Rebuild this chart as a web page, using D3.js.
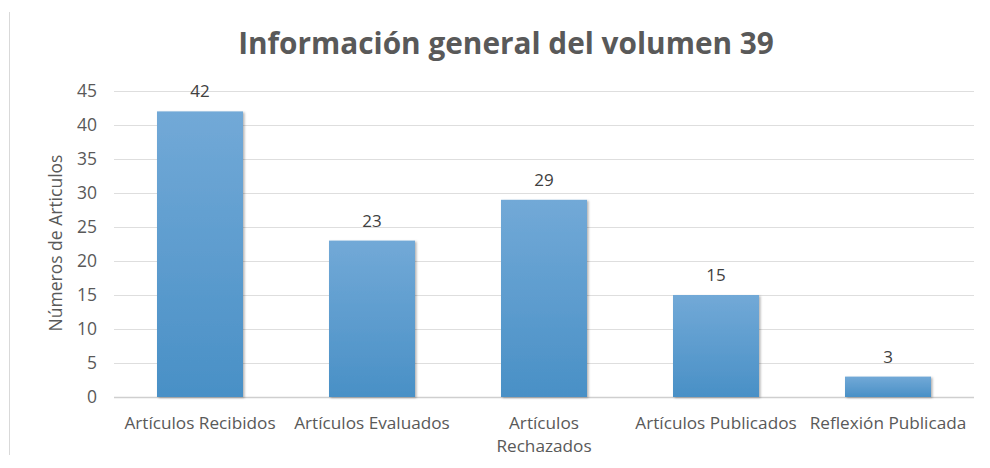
<!DOCTYPE html>
<html><head><meta charset="utf-8">
<script src="https://cdn.jsdelivr.net/npm/d3@7"></script>
<style>
html,body{margin:0;padding:0;background:#fff;}
svg{display:block;font-family:"Open Sans","Noto Sans",sans-serif;}
</style></head>
<body><svg id="c" width="990" height="468"></svg>
<script>
const categories = ["Artículos Recibidos","Artículos Evaluados","Artículos Rechazados","Artículos Publicados","Reflexión Publicada"];
const categoryLines = [["Artículos Recibidos"],["Artículos Evaluados"],["Artículos","Rechazados"],["Artículos Publicados"],["Reflexión Publicada"]];
const values = [42,23,29,15,3];
const yTicks = [0,5,10,15,20,25,30,35,40,45];
const title = "Información general del volumen 39";
const yTitle = "Números de Articulos";

const svg = d3.select("#c");
const m = {left:114, right:16, top:91, bottom:71};
const W = 990, H = 468;
const x = d3.scaleBand().domain(categories).range([m.left, W-m.right]).paddingInner(0.5).paddingOuter(0.25);
const y = d3.scaleLinear().domain([0,45]).range([H-m.bottom, m.top]);

const defs = svg.append("defs");
const g = defs.append("linearGradient").attr("id","bg").attr("x1",0).attr("y1",0).attr("x2",0).attr("y2",1);
g.append("stop").attr("offset","0%").attr("stop-color","#72a9d7");
g.append("stop").attr("offset","100%").attr("stop-color","#4990c6");
const f = defs.append("filter").attr("id","sh").attr("x","-10%").attr("y","-10%").attr("width","130%").attr("height","130%");
f.append("feDropShadow").attr("dx",1.5).attr("dy",1).attr("stdDeviation",1.2).attr("flood-color","#000").attr("flood-opacity",0.3);

// chart border line at left
svg.append("line").attr("x1",9.5).attr("x2",9.5).attr("y1",12).attr("y2",455).attr("stroke","#d9d9d9").attr("stroke-width",1);

// gridlines
svg.append("g").selectAll("line").data(yTicks).join("line")
  .attr("x1",m.left).attr("x2",W-m.right)
  .attr("y1",d=>Math.round(y(d))+0.5).attr("y2",d=>Math.round(y(d))+0.5)
  .attr("stroke",d=>d===0?"#cfcfcf":"#dedede").attr("stroke-width",d=>d===0?1.5:1);

// y axis labels
const yAxis = d3.axisLeft(y).tickValues(yTicks).tickSize(0).tickPadding(0);
const ya = svg.append("g").attr("transform",`translate(${m.left-17},0)`).call(yAxis);
ya.select(".domain").remove();
ya.selectAll("text").attr("font-size",17.5).attr("fill","#595959").attr("font-family","'Open Sans',sans-serif");

// bars
svg.append("g").selectAll("rect").data(values).join("rect")
  .attr("x",(d,i)=>x(categories[i])).attr("width",x.bandwidth())
  .attr("y",d=>y(d)).attr("height",d=>y(0)-y(d))
  .attr("fill","url(#bg)").attr("filter","url(#sh)");

// value labels
svg.append("g").selectAll("text").data(values).join("text")
  .attr("x",(d,i)=>x(categories[i])+x.bandwidth()/2)
  .attr("y",d=>y(d)-14)
  .attr("text-anchor","middle").attr("font-size",17).attr("fill","#404040")
  .text(d=>d);

// x labels (one text element per line)
const xg = svg.append("g");
categories.forEach((d,i)=>{
  categoryLines[i].forEach((ln,j)=>{
    xg.append("text").attr("x",x(d)+x.bandwidth()/2).attr("y",429+j*23)
      .attr("text-anchor","middle").attr("font-size",17.2).attr("fill","#595959").text(ln);
  });
});

// y title
svg.append("text").attr("transform","translate(62,243) rotate(-90)")
  .attr("text-anchor","middle").attr("font-size",17.5).attr("fill","#595959").text(yTitle);

// title
const tt = svg.append("text").attr("x",506).attr("y",54).attr("text-anchor","middle")
  .attr("font-size",28).attr("font-weight","bold").attr("fill","#595959").text(title);
const w = tt.node().getComputedTextLength();
tt.attr("font-size",28*536/w);
</script></body></html>
